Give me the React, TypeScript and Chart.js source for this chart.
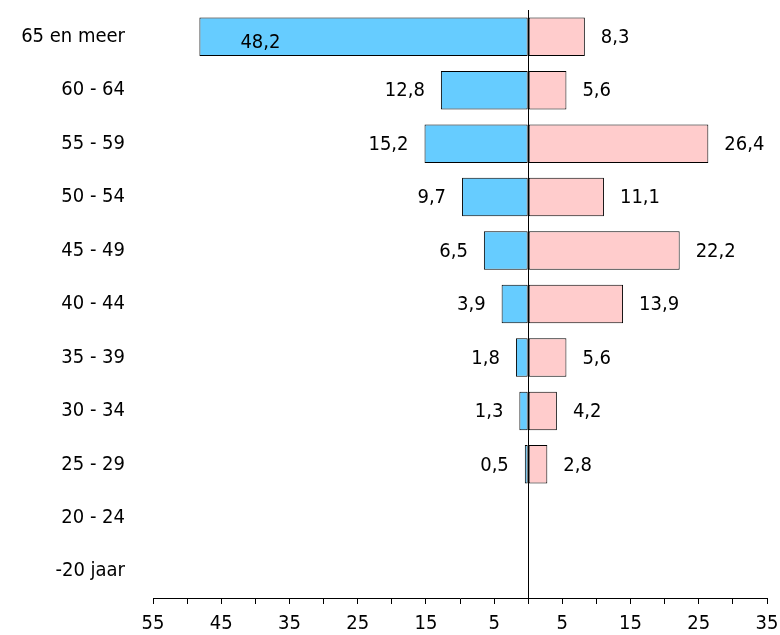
import React, { useEffect, useRef } from 'react';
import { Chart, registerables } from 'chart.js';

Chart.register(...registerables);

const categories = ['65 en meer', '60 - 64', '55 - 59', '50 - 54', '45 - 49', '40 - 44', '35 - 39', '30 - 34', '25 - 29', '20 - 24', '-20 jaar'];
const leftValues: (number | null)[] = [48.2, 12.8, 15.2, 9.7, 6.5, 3.9, 1.8, 1.3, 0.5, null, null];
const rightValues: (number | null)[] = [8.3, 5.6, 26.4, 11.1, 22.2, 13.9, 5.6, 4.2, 2.8, null, null];
const xTickValues = [-55, -50, -45, -40, -35, -30, -25, -20, -15, -10, -5, 0, 5, 10, 15, 20, 25, 30, 35];
const xTickLabels = ['55', '', '45', '', '35', '', '25', '', '15', '', '5', '', '5', '', '15', '', '25', '', '35'];

const FONT_FAMILY = '"DejaVu Sans Condensed", "DejaVu Sans", sans-serif';
const FONT_SIZE = 20;
const LABEL_GAP = 16;
const INSIDE_DX = 41;
const INSIDE_DY = 5;

const labelPlugin = {
  id: 'barLabels',
  afterDatasetsDraw(chart: any) {
    const { ctx, chartArea, scales } = chart;
    const x = scales.x;
    ctx.save();
    const x0 = Math.round(x.getPixelForValue(0)) + 0.5;
    ctx.strokeStyle = '#000';
    ctx.lineWidth = 1;
    ctx.beginPath();
    ctx.moveTo(x0, chartArea.top);
    ctx.lineTo(x0, chartArea.bottom);
    ctx.stroke();

    ctx.font = `${FONT_SIZE}px ${FONT_FAMILY}`;
    ctx.fillStyle = '#000';
    ctx.textBaseline = 'middle';
    chart.data.datasets.forEach((ds: any, di: number) => {
      const meta = chart.getDatasetMeta(di);
      meta.data.forEach((bar: any, i: number) => {
        const v = ds.data[i];
        if (v == null) return;
        const txt = Math.abs(v).toFixed(1).replace('.', ',');
        const w = ctx.measureText(txt).width;
        const y = bar.y + 1;
        if (v < 0) {
          const xEnd = bar.x - LABEL_GAP;
          if (xEnd - w < chartArea.left) {
            ctx.textAlign = 'left';
            ctx.fillText(txt, bar.x + INSIDE_DX, y + INSIDE_DY);
          } else {
            ctx.textAlign = 'right';
            ctx.fillText(txt, xEnd, y);
          }
        } else {
          ctx.textAlign = 'left';
          ctx.fillText(txt, bar.x + LABEL_GAP, y);
        }
      });
    });
    ctx.restore();
  },
};

export default function App() {
  const ref = useRef<HTMLCanvasElement | null>(null);

  useEffect(() => {
    if (!ref.current) return;
    const chart = new Chart(ref.current, {
      type: 'bar',
      data: {
        labels: categories,
        datasets: [
          {
            label: 'links',
            data: leftValues.map((v) => (v == null ? null : -v)),
            backgroundColor: '#66CCFF',
            borderColor: '#000',
            borderWidth: 1,
            borderSkipped: false,
            categoryPercentage: 1,
            barPercentage: 0.72,
          },
          {
            label: 'rechts',
            data: rightValues,
            backgroundColor: '#FFCCCC',
            borderColor: '#000',
            borderWidth: 1,
            borderSkipped: false,
            categoryPercentage: 1,
            barPercentage: 0.72,
          },
        ],
      },
      options: {
        indexAxis: 'y',
        responsive: false,
        animation: false,
        layout: { padding: { top: 10, right: 13, left: 0, bottom: 0 } },
        plugins: { legend: { display: false }, tooltip: { enabled: false } },
        scales: {
          x: {
            type: 'linear',
            stacked: true,
            min: -55,
            max: 35,
            afterBuildTicks: (scale: any) => {
              scale.ticks = xTickValues.map((v) => ({ value: v }));
            },
            afterFit: (scale: any) => {
              scale.height = 37;
              scale.paddingLeft = 0;
              scale.paddingRight = 0;
            },
            grid: {
              drawOnChartArea: false,
              drawTicks: true,
              tickLength: 6,
              color: '#000',
              tickColor: '#000',
            },
            border: { display: true, color: '#000', width: 1 },
            ticks: {
              autoSkip: false,
              maxRotation: 0,
              padding: 8,
              color: '#000',
              font: { family: FONT_FAMILY, size: FONT_SIZE },
              callback: (_v: any, i: number) => xTickLabels[i],
            },
          },
          y: {
            stacked: true,
            afterFit: (scale: any) => {
              scale.width = 153;
              scale.paddingTop = 0;
              scale.paddingBottom = 0;
            },
            grid: { display: false, drawTicks: false },
            border: { display: false },
            ticks: {
              padding: 28,
              color: '#000',
              font: { family: FONT_FAMILY, size: FONT_SIZE },
            },
          },
        },
      },
      plugins: [labelPlugin],
    } as any);
    return () => chart.destroy();
  }, []);

  return (
    <canvas
      ref={ref}
      width={780}
      height={635}
      style={{ position: 'absolute', left: 0, top: 0, width: 780, height: 635 }}
    />
  );
}
